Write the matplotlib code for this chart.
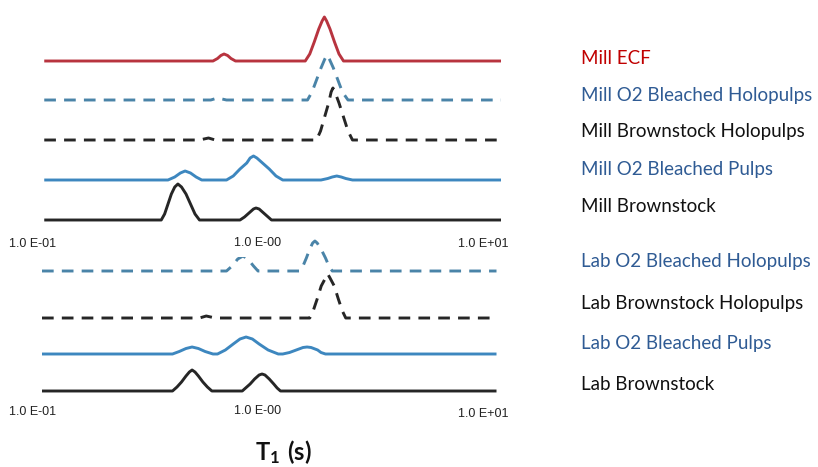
"""
Stacked T1 relaxation distributions for mill and lab pulps
"""
import matplotlib.pyplot as plt
import numpy as np

plt.rcParams['font.family'] = ['Lato', 'DejaVu Sans']
plt.rcParams['mathtext.fontset'] = 'custom'
plt.rcParams['mathtext.rm'] = 'Lato'
plt.rcParams['mathtext.bf'] = 'Lato:bold'

# ### data: log10(T1 / s) and intensity (a.u.) ###
mill_ecf_logt = [-0.95, -0.20, -0.18, -0.165, -0.151, -0.135, -0.12, -0.10,
                 0.21, 0.23, 0.25, 0.27, 0.285, 0.295, 0.305, 0.32, 0.34, 0.36, 0.38, 1.08]
mill_ecf_int = [0, 0, 2.5, 5.5, 7, 5.5, 2.5, 0,
                0, 7, 19, 32, 40, 44, 40, 32, 19, 7, 0, 0]

mill_o2_holo_logt = [-0.95, -0.21, -0.18, -0.14,
                     0.22, 0.24, 0.26, 0.28, 0.297, 0.307, 0.317, 0.335, 0.355, 0.375, 0.40, 1.08]
mill_o2_holo_int = [0, 0, 2, 0,
                    0, 8, 20, 32, 41, 45, 41, 32, 20, 8, 0, 0]

mill_bs_holo_logt = [-0.95, -0.26, -0.22, -0.19,
                     0.26, 0.278, 0.296, 0.314, 0.325, 0.333, 0.342, 0.36, 0.38, 0.40, 0.42, 1.08]
mill_bs_holo_int = [0, 0, 2, 0,
                    0, 9, 23, 37, 48, 52, 48, 37, 23, 9, 0, 0]

mill_o2_pulps_logt = [-0.95, -0.40, -0.37, -0.345, -0.324, -0.30, -0.275, -0.25,
                      -0.14, -0.11, -0.08, -0.05, -0.035, -0.02, -0.005, 0.02, 0.05, 0.08, 0.11,
                      0.28, 0.31, 0.33, 0.35, 0.37, 0.39, 0.42, 1.08]
mill_o2_pulps_int = [0, 0, 3, 7, 9, 7, 3, 0,
                     0, 4, 11, 17, 22, 24, 22, 17, 11, 4, 0,
                     0, 1.5, 3, 4, 3, 1.5, 0, 0]

mill_bs_logt = [-0.95, -0.43, -0.415, -0.40, -0.385, -0.37, -0.356, -0.34, -0.32, -0.30, -0.28, -0.26,
                -0.08, -0.06, -0.04, -0.02, -0.009, 0.005, 0.025, 0.045, 0.06, 1.08]
mill_bs_int = [0, 0, 6, 16, 26, 33, 36, 33, 26, 16, 6, 0,
               0, 3, 7, 11, 12, 11, 7, 3, 0, 0]

lab_o2_holo_logt = [-0.96, -0.14, -0.115, -0.09, -0.067, -0.045, -0.02, 0.00,
                    0.185, 0.20, 0.215, 0.23, 0.243, 0.253, 0.263, 0.28, 0.30, 0.315, 0.33, 1.06]
lab_o2_holo_int = [0, 0, 5, 12, 15, 12, 5, 0,
                   0, 5, 13, 22, 28, 30, 28, 22, 13, 5, 0, 0]

lab_bs_holo_logt = [-0.96, -0.26, -0.23, -0.19,
                    0.23, 0.245, 0.263, 0.281, 0.30, 0.31, 0.32, 0.339, 0.357, 0.375, 0.39, 1.06]
lab_bs_holo_int = [0, 0, 2, 0,
                   0, 7, 19, 32, 40, 44, 40, 32, 19, 7, 0, 0]

lab_o2_pulps_logt = [-0.96, -0.38, -0.35, -0.32, -0.293, -0.265, -0.235, -0.20,
                     -0.18, -0.145, -0.11, -0.08, -0.053, -0.025, 0.005, 0.045, 0.09,
                     0.11, 0.14, 0.17, 0.20, 0.218, 0.236, 0.265, 0.28, 0.30, 1.06]
lab_o2_pulps_int = [0, 0, 2.5, 5.5, 7, 5.5, 2.5, 0,
                    0, 4, 10, 15, 17, 15, 10, 4, 0,
                    0, 1.5, 4, 6.5, 7, 6.5, 4, 1.5, 0, 0]

lab_bs_logt = [-0.96, -0.38, -0.36, -0.34, -0.32, -0.305, -0.293, -0.28, -0.265, -0.245, -0.225, -0.205,
               -0.07, -0.055, -0.035, -0.015, 0.005, 0.018, 0.031, 0.05, 0.07, 0.085, 0.10, 1.06]
lab_bs_int = [0, 0, 4, 9, 15, 19, 21, 19, 15, 9, 4, 0,
              0, 3, 7, 12, 16, 17, 16, 12, 7, 3, 0, 0]

mill_labels = ['Mill ECF', 'Mill O2 Bleached Holopulps', 'Mill Brownstock Holopulps',
               'Mill O2 Bleached Pulps', 'Mill Brownstock']
lab_labels = ['Lab O2 Bleached Holopulps', 'Lab Brownstock Holopulps',
              'Lab O2 Bleached Pulps', 'Lab Brownstock']
tick_values = [0.1, 1.0, 10.0]
tick_labels = ['1.0 E-01', '1.0 E-00', '1.0 E+01']

# ### styles ###
RED = '#b8343f'
BLUE = '#3d87bf'
BLUE_DASH = '#4a84a8'
BLACK = '#262626'
TXT_RED = '#c00000'
TXT_BLUE = '#2f5b94'
TXT_BLACK = '#111111'


def main():
    fig = plt.figure(figsize=(8.18, 4.67), dpi=100)
    # one axes over the whole figure, y in pixels from the top, x in log T1
    ax = fig.add_axes([0, 0, 1, 1])
    ax.set_xscale('log')
    ax.set_xlim(10 ** (-258 / 225), 10 ** ((818 - 258) / 225))
    ax.set_ylim(467, 0)
    ax.axis('off')

    curves = [
        (mill_ecf_logt, mill_ecf_int, 61, RED, '-'),
        (mill_o2_holo_logt, mill_o2_holo_int, 100, BLUE_DASH, '--'),
        (mill_bs_holo_logt, mill_bs_holo_int, 140, BLACK, '--'),
        (mill_o2_pulps_logt, mill_o2_pulps_int, 180, BLUE, '-'),
        (mill_bs_logt, mill_bs_int, 220, BLACK, '-'),
        (lab_o2_holo_logt, lab_o2_holo_int, 271, BLUE_DASH, '--'),
        (lab_bs_holo_logt, lab_bs_holo_int, 318, BLACK, '--'),
        (lab_o2_pulps_logt, lab_o2_pulps_int, 354, BLUE, '-'),
        (lab_bs_logt, lab_bs_int, 391, BLACK, '-'),
    ]
    for logt, inten, base, color, ls in curves:
        t1 = np.power(10.0, logt)
        y = base - np.array(inten)
        line, = ax.plot(t1, y, color=color, lw=2.1, ls=ls,
                        solid_joinstyle='round', solid_capstyle='butt')
        if ls == '--':
            line.set_dashes((4.0, 2.8))

    # tick labels for both panels
    for row_y, offsets in [(244, [0, -1, 0]), (412, [0, -1, 2])]:
        for val, lab, dy in zip(tick_values, tick_labels, offsets):
            bbox = None
            if lab == '1.0 E-00' and row_y == 244:
                bbox = dict(fc='white', ec='none', pad=6)
            ax.text(val, row_y + dy, lab, ha='center', va='center', fontsize=9,
                    family='Liberation Sans', color='#222222', bbox=bbox, zorder=5)

    # right side labels
    mill_y = [58, 95, 132, 169, 207]
    lab_y = [261, 303, 343, 384]
    colors = [TXT_RED, TXT_BLUE, TXT_BLACK, TXT_BLUE, TXT_BLACK]
    for lab, yy, c in zip(mill_labels, mill_y, colors):
        fig.text(581 / 818, 1 - yy / 467, lab, ha='left', va='center', fontsize=13.5, color=c)
    for lab, yy, c in zip(lab_labels, lab_y, colors[1:]):
        fig.text(581 / 818, 1 - yy / 467, lab, ha='left', va='center', fontsize=13.5, color=c)

    # axis title
    fig.text(283 / 818, 1 - 452 / 467, r'$\mathbf{T_1\ (s)}$', ha='center', va='center',
             fontsize=17, color='#111111')

    fig.savefig('out.png', dpi=100)


if __name__ == "__main__":
    main()
